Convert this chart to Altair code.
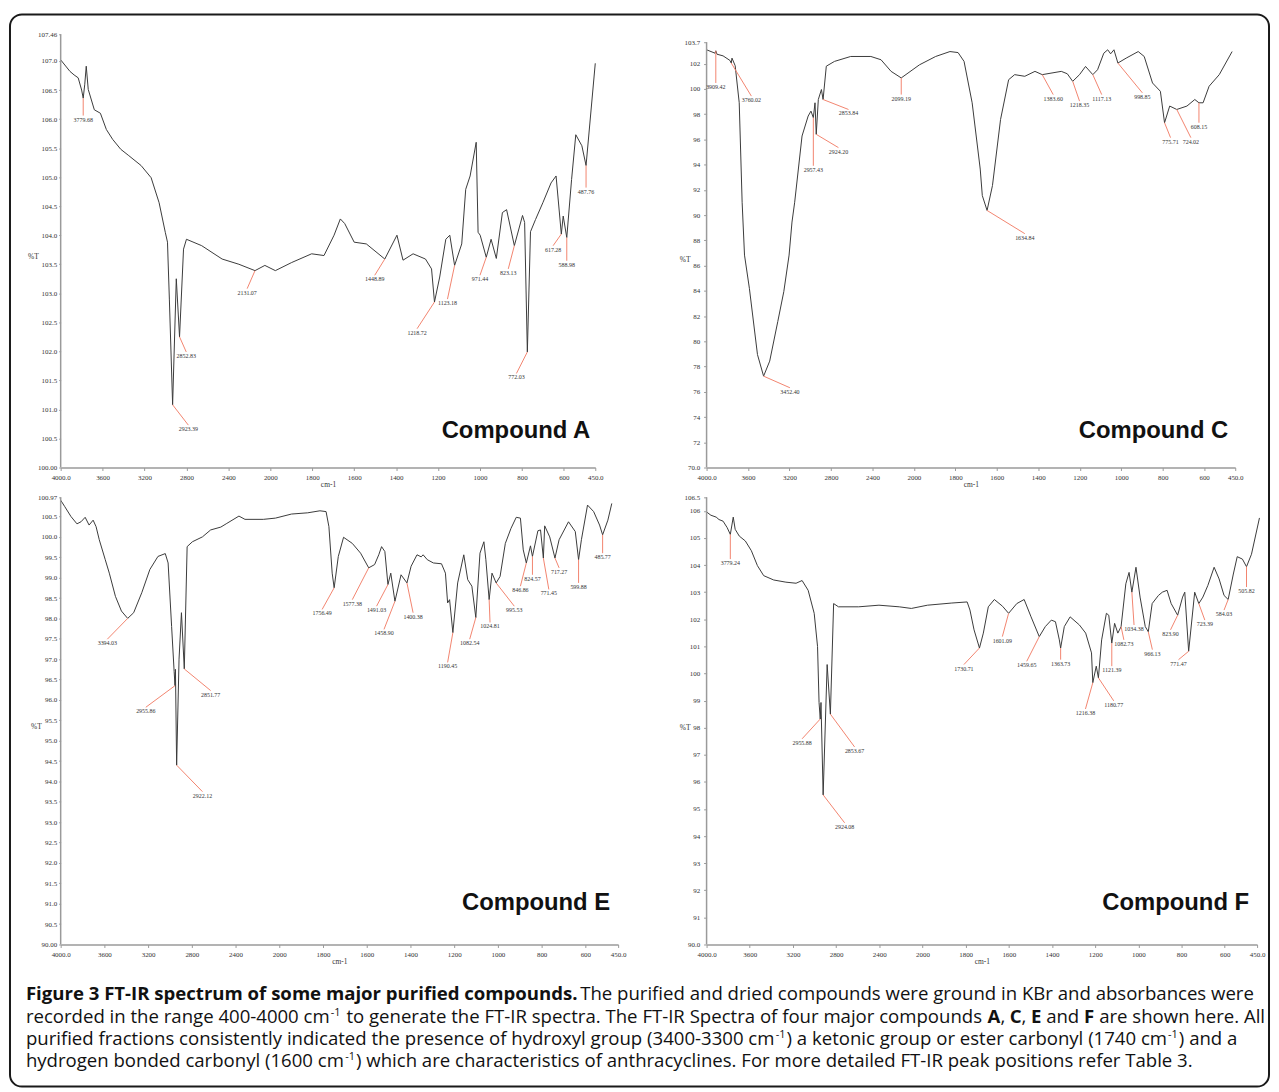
import altair as alt
import pandas as pd

# ---------------- data ----------------
X_BREAKS = [4000, 2000, 450]
X_TICKS = [4000, 3600, 3200, 2800, 2400, 2000, 1800, 1600, 1400, 1200, 1000, 800, 600, 450]
X_TICK_LABELS = ["4000.0", "3600", "3200", "2800", "2400", "2000", "1800", "1600", "1400",
                 "1200", "1000", "800", "600", "450.0"]
X_TITLE = "cm-1"
Y_TITLE = "%T"

# Compound A
A_WN = [4000, 3911, 3872, 3833, 3800, 3785, 3770, 3756, 3737, 3679, 3621, 3564, 3504, 3427, 3350,
        3233, 3137, 3061, 3002, 2981, 2963, 2932, 2897, 2866, 2828, 2800, 2655, 2460, 2300, 2146,
        2052, 1976, 1898, 1803, 1744, 1696, 1666, 1645, 1600, 1542, 1454, 1396, 1367, 1319, 1260,
        1231, 1217, 1192, 1163, 1144, 1121, 1087, 1068, 1047, 1018, 1009, 999, 970, 947, 922,
        893, 873, 836, 797, 787, 774, 759, 735, 700, 661, 637, 612, 603, 586, 563, 543, 514, 494, 450]
A_T = [107.02, 106.82, 106.76, 106.71, 106.5, 106.36, 106.6, 106.91, 106.51, 106.16, 106.1, 105.82,
       105.65, 105.48, 105.37, 105.2, 104.99, 104.56, 104.05, 103.88, 102.9, 101.08, 103.25, 102.25,
       103.76, 103.93, 103.82, 103.59, 103.5, 103.39, 103.48, 103.39, 103.53, 103.68, 103.65, 104.0,
       104.28, 104.2, 103.88, 103.85, 103.59, 104.0, 103.57, 103.68, 103.59, 103.42, 102.85, 103.28,
       103.93, 104.0, 103.48, 103.85, 104.79, 105.02, 105.6, 104.05, 104.0, 103.62, 103.93, 103.6,
       104.39, 104.44, 103.82, 104.34, 104.22, 101.99, 104.06, 104.27, 104.56, 104.9, 105.02, 104.02,
       104.33, 103.96, 104.96, 105.73, 105.54, 105.2, 106.96]
A_LABELS = ["3779.68", "2923.39", "2852.83", "2131.07", "1448.89", "1218.72", "1123.18", "971.44",
            "823.13", "772.03", "617.28", "588.98", "487.76"]
A_PEAK_WN = [3785, 2932, 2866, 2146, 1454, 1217, 1121, 970, 836, 774, 612, 586, 494]
A_PEAK_T = [106.36, 101.08, 102.25, 103.39, 103.59, 102.85, 103.48, 103.62, 103.82, 101.99, 104.02, 103.96, 105.2]
A_TAG_WN = [3785, 2782, 2802, 2221, 1502, 1300, 1155, 1000, 865, 826, 651, 586, 494]
A_TAG_T = [106.06, 100.73, 101.99, 103.08, 103.31, 102.39, 102.9, 103.31, 103.42, 101.62, 103.82, 103.56, 104.82]
A_YTICKS = [100.0, 100.5, 101.0, 101.5, 102.0, 102.5, 103.0, 103.5, 104.0, 104.5, 105.0, 105.5,
            106.0, 106.5, 107.0, 107.46]
A_YTICK_LABELS = ["100.00", "100.5", "101.0", "101.5", "102.0", "102.5", "103.0", "103.5", "104.0",
                  "104.5", "105.0", "105.5", "106.0", "106.5", "107.0", "107.46"]

# Compound C
C_WN = [4000, 3918, 3911, 3900, 3841, 3775, 3762, 3755, 3724, 3685, 3657, 3634, 3587, 3509, 3450,
        3391, 3313, 3255, 3204, 3176, 3150, 3079, 3020, 2993, 2970, 2954, 2942, 2922, 2892, 2876,
        2845, 2766, 2610, 2415, 2317, 2220, 2122, 1973, 1895, 1826, 1787, 1758, 1719, 1680, 1670,
        1647, 1621, 1582, 1543, 1514, 1465, 1416, 1381, 1289, 1260, 1234, 1201, 1172, 1137, 1114,
        1084, 1065, 1051, 1035, 1016, 976, 918, 889, 849, 811, 791, 766, 732, 683, 645, 625, 605,
        576, 527, 465]
C_T = [103.1, 102.83, 103.02, 102.75, 102.62, 102.26, 102.05, 102.44, 101.84, 98.9, 91.02, 86.83,
       84.2, 78.95, 77.24, 78.43, 81.57, 83.94, 86.83, 89.45, 91.02, 96.27, 97.85, 98.24, 97.72, 98.9,
       96.4, 99.16, 99.95, 99.16, 101.8, 102.18, 102.57, 102.57, 102.31, 101.39, 100.87, 101.91,
       102.57, 102.96, 102.88, 102.18, 98.9, 93.65, 91.55, 90.37, 92.34, 97.58, 100.73, 101.13,
       101.0, 101.39, 101.13, 101.39, 101.2, 100.6, 101.13, 101.78, 101.13, 101.52, 102.83, 103.1,
       102.78, 103.1, 102.05, 102.44, 102.96, 102.57, 100.47, 99.81, 97.32, 98.64, 98.37, 98.64,
       99.16, 98.9, 98.9, 100.21, 101.13, 102.96]
C_LABELS = ["3909.42", "3760.02", "3452.40", "2957.43", "2924.20", "2853.84", "2099.19", "1634.84",
            "1383.60", "1218.35", "1117.13", "998.85", "775.71", "724.02", "608.15"]
C_PEAK_WN = [3911, 3762, 3450, 2970, 2942, 2876, 2122, 1647, 1381, 1234, 1137, 1016, 791, 732, 625]
C_PEAK_T = [103.02, 102.05, 77.24, 97.72, 96.4, 99.16, 100.87, 90.37, 101.13, 100.6, 101.13, 102.05, 97.32, 98.37, 98.9]
C_TAG_WN = [3911, 3568, 3196, 2970, 2728, 2631, 2122, 1465, 1328, 1201, 1094, 898, 762, 664, 625]
C_TAG_T = [100.47, 99.43, 76.32, 93.91, 95.35, 98.37, 99.55, 88.53, 99.55, 99.03, 99.55, 99.69, 96.14, 96.14, 97.32]
C_YTICKS = [70, 72, 74, 76, 78, 80, 82, 84, 86, 88, 90, 92, 94, 96, 98, 100, 102, 103.7]
C_YTICK_LABELS = ["70.0", "72", "74", "76", "78", "80", "82", "84", "86", "88", "90", "92", "94",
                  "96", "98", "100", "102", "103.7"]

# Compound E
E_WN = [4000, 3962, 3906, 3851, 3814, 3776, 3740, 3703, 3676, 3647, 3592, 3555, 3499, 3444, 3387,
        3332, 3258, 3184, 3110, 3043, 3017, 2985, 2962, 2954, 2950, 2939, 2917, 2895, 2869, 2843,
        2795, 2703, 2628, 2535, 2480, 2369, 2314, 2146, 2035, 1944, 1870, 1814, 1786, 1773, 1758,
        1749, 1730, 1706, 1666, 1628, 1591, 1564, 1545, 1532, 1517, 1503, 1490, 1471, 1443, 1416,
        1397, 1370, 1351, 1342, 1323, 1295, 1258, 1240, 1230, 1221, 1206, 1184, 1156, 1138, 1119,
        1101, 1082, 1064, 1055, 1040, 1027, 1008, 990, 966, 940, 916, 897, 884, 870, 851, 842, 817,
        805, 792, 786, 763, 739, 720, 677, 646, 631, 618, 590, 562, 535, 521, 497, 479]
E_T = [100.9, 100.74, 100.5, 100.32, 100.37, 100.48, 100.29, 100.41, 100.25, 99.93, 99.44, 99.11,
       98.54, 98.18, 98.0, 98.14, 98.63, 99.2, 99.52, 99.59, 99.36, 97.8, 96.7, 96.35, 96.75, 94.4,
       97.0, 98.14, 96.76, 99.76, 99.88, 100.0, 100.17, 100.24, 100.33, 100.51, 100.43, 100.43,
       100.46, 100.56, 100.59, 100.64, 100.62, 100.25, 99.11, 98.75, 99.52, 99.99, 99.84, 99.6,
       99.24, 99.32, 99.56, 99.76, 99.64, 98.83, 99.11, 98.42, 99.07, 98.87, 99.28, 99.56, 99.51,
       99.56, 99.44, 99.36, 99.34, 99.11, 98.38, 98.46, 97.65, 98.87, 99.56, 98.95, 98.79, 98.02,
       99.6, 99.88, 99.44, 98.46, 99.11, 98.87, 99.03, 99.84, 100.21, 100.48, 100.46, 99.68, 99.36,
       99.78, 99.52, 100.15, 100.17, 99.48, 100.27, 100.0, 99.48, 99.93, 100.37, 100.13, 99.44,
       99.93, 100.78, 100.62, 100.29, 100.05, 100.41, 100.82]
E_LABELS = ["3394.03", "2955.86", "2922.12", "2851.77", "1756.49", "1577.38", "1491.03", "1458.90",
            "1400.38", "1190.45", "1082.54", "1024.81", "995.53", "846.86", "824.57", "771.45",
            "717.27", "599.88", "485.77"]
E_PEAK_WN = [3387, 2954, 2939, 2869, 1749, 1591, 1503, 1471, 1416, 1206, 1101, 1040, 1008, 870, 842, 792, 739, 631, 521]
E_PEAK_T = [98.0, 96.35, 94.4, 96.76, 98.75, 99.24, 98.83, 98.42, 98.87, 97.65, 98.02, 98.46, 98.87,
            99.36, 99.52, 99.48, 99.48, 99.44, 100.05]
E_TAG_WN = [3573, 3221, 2703, 2628, 1804, 1666, 1555, 1521, 1388, 1230, 1129, 1036, 925, 897, 842, 767, 720, 631, 521]
E_TAG_T = [97.49, 95.82, 93.75, 96.23, 98.22, 98.46, 98.3, 97.73, 98.14, 96.92, 97.49, 97.9, 98.3,
           98.79, 99.07, 98.71, 99.24, 98.87, 99.6]
E_YTICKS = [90.0, 90.5, 91.0, 91.5, 92.0, 92.5, 93.0, 93.5, 94.0, 94.5, 95.0, 95.5, 96.0, 96.5,
            97.0, 97.5, 98.0, 98.5, 99.0, 99.5, 100.0, 100.5, 100.97]
E_YTICK_LABELS = ["90.00", "90.5", "91.0", "91.5", "92.0", "92.5", "93.0", "93.5", "94.0", "94.5",
                  "95.0", "95.5", "96.0", "96.5", "97.0", "97.5", "98.0", "98.5", "99.0", "99.5",
                  "100.0", "100.5", "100.97"]

# Compound F
F_WN = [4000, 3960, 3911, 3885, 3847, 3809, 3780, 3753, 3735, 3697, 3641, 3585, 3529, 3471, 3378,
        3265, 3171, 3115, 3059, 3003, 2972, 2958, 2947, 2940, 2920, 2883, 2853, 2823, 2778, 2591,
        2403, 2215, 2103, 1977, 1864, 1793, 1780, 1761, 1736, 1718, 1695, 1667, 1629, 1601, 1563,
        1529, 1497, 1459, 1431, 1403, 1384, 1366, 1360, 1343, 1316, 1273, 1244, 1217, 1211, 1195,
        1185, 1170, 1148, 1137, 1123, 1110, 1095, 1080, 1058, 1043, 1030, 1011, 992, 968, 954, 936,
        907, 889, 867, 848, 818, 795, 785, 767, 739, 720, 701, 678, 649, 626, 603, 584, 560, 542,
        518, 499, 476, 439]
F_T = [105.96, 105.84, 105.77, 105.68, 105.62, 105.38, 105.13, 105.77, 105.32, 105.07, 104.89,
       104.53, 103.98, 103.61, 103.45, 103.37, 103.33, 103.43, 103.07, 102.22, 101.0, 98.93, 98.32,
       98.93, 95.52, 100.33, 98.5, 102.58, 102.46, 102.46, 102.52, 102.46, 102.4, 102.52, 102.6,
       102.64, 102.34, 101.61, 100.94, 101.49, 102.46, 102.73, 102.48, 102.22, 102.58, 102.73,
       102.09, 101.36, 101.73, 101.97, 101.91, 101.24, 100.94, 101.73, 102.09, 101.79, 101.49,
       100.76, 99.66, 100.27, 99.84, 101.24, 102.22, 102.15, 101.12, 101.85, 101.49, 101.73, 103.31,
       103.73, 103.0, 103.92, 102.82, 101.73, 101.54, 102.58, 102.88, 103.0, 103.07, 102.58, 102.15,
       102.82, 103.0, 100.82, 103.0, 102.58, 102.82, 103.25, 103.92, 103.49, 102.88, 102.73, 103.67,
       104.31, 104.22, 103.94, 104.4, 105.74]
F_LABELS = ["3779.24", "2955.88", "2924.08", "2853.67", "1730.71", "1601.09", "1459.65", "1363.73",
            "1216.38", "1180.77", "1121.39", "1082.73", "1034.38", "966.13", "823.90", "771.47",
            "723.39", "584.03", "505.82"]
F_PEAK_WN = [3780, 2947, 2920, 2853, 1736, 1601, 1459, 1360, 1211, 1185, 1123, 1080, 1030, 954, 818, 767, 720, 584, 499]
F_PEAK_T = [105.13, 98.32, 95.52, 98.5, 100.94, 102.22, 101.36, 100.94, 99.66, 99.84, 101.12, 101.73,
            103.0, 101.54, 102.15, 100.82, 102.58, 102.73, 103.94]
F_TAG_WN = [3780, 3115, 2721, 2629, 1808, 1630, 1517, 1360, 1245, 1114, 1123, 1067, 1020, 935, 851, 814, 692, 603, 499]
F_TAG_T = [104.22, 97.59, 94.49, 97.29, 100.33, 101.36, 100.45, 100.51, 98.69, 98.99, 100.27, 101.24,
           101.79, 100.88, 101.61, 100.51, 101.97, 102.34, 103.19]
F_YTICKS = [90, 91, 92, 93, 94, 95, 96, 97, 98, 99, 100, 101, 102, 103, 104, 105, 106, 106.5]
F_YTICK_LABELS = ["90.0", "91", "92", "93", "94", "95", "96", "97", "98", "99", "100", "101", "102",
                  "103", "104", "105", "106", "106.5"]

PANEL_TITLES = ["Compound A", "Compound C", "Compound E", "Compound F"]

CAPTION_LINES = [
    [("Figure 3 FT-IR spectrum of some major purified compounds.", "b"),
     (" The purified and dried compounds were ground in KBr and absorbances were", "r")],
    [("recorded in the range 400-4000 cm", "r"), ("-1", "sup"),
     (" to generate the FT-IR spectra. The FT-IR Spectra of four major compounds ", "r"),
     ("A", "b"), (", ", "r"), ("C", "b"), (", ", "r"), ("E", "b"), (" and ", "r"), ("F", "b"),
     (" are shown here. All", "r")],
    [("purified fractions consistently indicated the presence of hydroxyl group (3400-3300 cm", "r"),
     ("-1", "sup"), (") a ketonic group or ester carbonyl (1740 cm", "r"), ("-1", "sup"),
     (") and a", "r")],
    [("hydrogen bonded carbonyl (1600 cm", "r"), ("-1", "sup"),
     (") which are characteristics of anthracyclines. For more detailed FT-IR peak positions refer Table 3.", "r")],
]

# ---------------- styling / layout ----------------
SERIF = "Liberation Serif"
AXIS_GREY = "#9a9a9a"
LINE_COL = "#3a3a3a"
LEADER_COL = "#f2846f"


def js_key(v):
    v = float(v)
    return str(int(v)) if v.is_integer() else repr(v)


def label_expr(values, labels):
    # nested ternary: tick value -> printed tick label
    expr = "''"
    for v, s in reversed(list(zip(values, labels))):
        expr = f"abs(datum.value - {js_key(v)}) < 0.001 ? '{s}' : ({expr})"
    return expr


def panel(wn, t, labels, pwn, pt, twn, tt, ylo, yplot_top, ytop, yticks, ylabels,
          width, height, title, title_x, title_y, ytitle_x, ytitle_y, ypad, ytick):
    xs = alt.Scale(domain=X_BREAKS, range=[0, width * 1000 / 2550, width], nice=False, zero=False)
    ys = alt.Scale(domain=[ylo, yplot_top], nice=False, zero=False)
    xaxis = alt.Axis(values=X_TICKS, labelExpr=label_expr(X_TICKS, X_TICK_LABELS), title=X_TITLE,
                     labelFont=SERIF, labelFontSize=7, labelColor="#333", labelPadding=3,
                     labelFlush=False, labelOverlap=False, tickSize=3, tickColor=AXIS_GREY,
                     domain=True, domainColor=AXIS_GREY, domainWidth=1.5, grid=False,
                     titleFont=SERIF, titleFontSize=7.5, titleFontWeight="normal",
                     titleColor="#333", titlePadding=0)
    yaxis = alt.Axis(values=yticks, labelExpr=label_expr(yticks, ylabels), title=Y_TITLE,
                     titleAngle=0, titleX=ytitle_x, titleY=ytitle_y, titleAlign="center",
                     titleBaseline="middle", titleFont=SERIF, titleFontSize=7.5,
                     titleFontWeight="normal", titleColor="#333", labelFont=SERIF, labelFontSize=7,
                     labelColor="#333", labelPadding=ypad, labelOverlap=False, labelFlush=False,
                     labelSeparation=0, tickSize=ytick, tickColor=AXIS_GREY, domain=False,
                     grid=False)

    spec = pd.DataFrame({"w": wn, "t": t})
    ann = pd.DataFrame({"lbl": labels, "pw": pwn, "pt": pt, "tw": twn, "tt": tt})
    yline = pd.DataFrame({"w": [X_BREAKS[0]], "t": [ylo], "t2": [ytop]})

    line = alt.Chart(spec).mark_line(color=LINE_COL, strokeWidth=1).encode(
        x=alt.X("w:Q", scale=xs, axis=xaxis),
        y=alt.Y("t:Q", scale=ys, axis=yaxis))
    axis_line = alt.Chart(yline).mark_rule(color=AXIS_GREY, strokeWidth=1.5).encode(
        x=alt.X("w:Q", scale=xs, axis=xaxis),
        y=alt.Y("t:Q", scale=ys, axis=yaxis),
        y2="t2:Q")
    leaders = alt.Chart(ann).mark_rule(color=LEADER_COL, strokeWidth=1).encode(
        x=alt.X("pw:Q", scale=xs, axis=xaxis),
        y=alt.Y("pt:Q", scale=ys, axis=yaxis),
        x2="tw:Q", y2="tt:Q")
    tags = alt.Chart(ann).mark_text(font=SERIF, fontSize=6, baseline="top", align="center", dy=1,
                                    color="#333").encode(
        x=alt.X("tw:Q", scale=xs, axis=xaxis),
        y=alt.Y("tt:Q", scale=ys, axis=yaxis),
        text="lbl:N")
    ttl = alt.Chart(alt.Data(values=[{"k": 1}])).mark_text(
        align="right", baseline="middle", font="Liberation Sans", fontWeight="bold", fontSize=24,
        color="#111", text=title).encode(x=alt.value(title_x), y=alt.value(title_y))
    return alt.layer(line, axis_line, leaders, tags, ttl).properties(width=width, height=height)


pA = panel(A_WN, A_T, A_LABELS, A_PEAK_WN, A_PEAK_T, A_TAG_WN, A_TAG_T,
           100.0, 107.46, 107.46, A_YTICKS, A_YTICK_LABELS, 538, 436, PANEL_TITLES[0],
           533, 399, -28, 224, 2, 2)
pC = panel(C_WN, C_T, C_LABELS, C_PEAK_WN, C_PEAK_T, C_TAG_WN, C_TAG_T,
           70.0, 104.33, 103.7, C_YTICKS, C_YTICK_LABELS, 532, 436, PANEL_TITLES[1],
           525, 399, -22, 227, 4, 3)
pE = panel(E_WN, E_T, E_LABELS, E_PEAK_WN, E_PEAK_T, E_TAG_WN, E_TAG_T,
           90.0, 100.97, 100.97, E_YTICKS, E_YTICK_LABELS, 561, 450, PANEL_TITLES[2],
           553, 408, -25, 231, 2, 2)
pF = panel(F_WN, F_T, F_LABELS, F_PEAK_WN, F_PEAK_T, F_TAG_WN, F_TAG_T,
           90.0, 106.5, 106.5, F_YTICKS, F_YTICK_LABELS, 554, 450, PANEL_TITLES[3],
           546, 408, -22, 232, 4, 3)

# ---------------- caption ----------------
REG = {' ': 532, '(': 596, ')': 596, ',': 502, '-': 659, '.': 545, ':': 545,
       'A': 1296, 'B': 1327, 'C': 1292, 'D': 1493, 'E': 1139, 'F': 1057, 'G': 1491, 'H': 1511,
       'I': 571, 'K': 1257, 'L': 1063, 'M': 1849, 'N': 1544, 'O': 1595, 'P': 1233, 'R': 1266,
       'S': 1124, 'T': 1133, 'a': 1139, 'b': 1255, 'c': 975, 'd': 1255, 'e': 1149, 'f': 694,
       'g': 1122, 'h': 1257, 'i': 518, 'j': 518, 'k': 1075, 'l': 518, 'm': 1905, 'n': 1257,
       'o': 1237, 'p': 1255, 'q': 1255, 'r': 836, 's': 977, 't': 723, 'u': 1257, 'v': 1026,
       'w': 1593, 'x': 1073, 'y': 1028, 'z': 977}
for d in "0123456789":
    REG[d] = 1171
BOLD = {k: v * 1.06 for k, v in REG.items()}
BOLD.update({' ': 532, 'A': 1436, 'C': 1296, 'E': 1139, 'F': 1124, 'I': 678, 'R': 1374, 'T': 1187})
for d in "0123456789":
    BOLD[d] = 1171

CAP_SIZE = 18.7
SUP_SIZE = 11
CAP_X0 = -35
CAP_BASE0 = 26
CAP_LEAD = 22.5


def tw(s, table, size):
    return sum(table.get(ch, 1150) for ch in s) * size / 2048


rows = []
for i, segs in enumerate(CAPTION_LINES):
    cx = CAP_X0
    base = CAP_BASE0 + i * CAP_LEAD
    for text, kind in segs:
        table = BOLD if kind == "b" else REG
        size = SUP_SIZE if kind == "sup" else CAP_SIZE
        lead = len(text) - len(text.lstrip(" "))
        core = text.strip(" ")
        xs0 = cx + tw(" " * lead, table, size) + (1 if kind == "sup" else 0)
        rows.append({"x": xs0, "y": base - (7 if kind == "sup" else 0), "text": core, "kind": kind})
        cx += tw(text, table, size) + (2 if kind == "sup" else 0)
cap_df = pd.DataFrame(rows)


def cap_layer(kind, **kw):
    return alt.Chart(cap_df[cap_df["kind"] == kind]).mark_text(
        align="left", baseline="alphabetic", font="Open Sans", color="#111", **kw).encode(
        x=alt.X("x:Q", scale=None, axis=None), y=alt.Y("y:Q", scale=None, axis=None),
        text="text:N")


border = alt.Chart(alt.Data(values=[{"k": 1}])).mark_rect(
    filled=False, stroke="#1a1a1a", strokeWidth=2, cornerRadius=12).encode(
    x=alt.value(-51), x2=alt.value(1216), y=alt.value(-966), y2=alt.value(113))

caption = alt.layer(
    border,
    cap_layer("r", fontSize=CAP_SIZE),
    cap_layer("b", fontSize=CAP_SIZE, fontWeight="bold"),
    cap_layer("sup", fontSize=SUP_SIZE),
).properties(width=1, height=100)

chart = alt.concat(pA, pC, pE, pF, caption, columns=2,
                   spacing={"row": 30, "column": 89}, bounds="flush").properties(
    padding={"left": 1, "top": 2, "right": 1, "bottom": 1},
    background="white",
).configure_view(strokeWidth=0).configure_axis(labelOverlap=False)

chart.save("out.html", embed_options={"renderer": "svg", "actions": False})
